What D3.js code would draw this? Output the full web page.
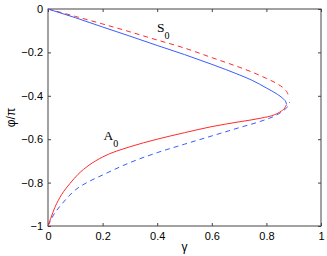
<!DOCTYPE html>
<html>
<head>
<meta charset="utf-8">
<script src="https://cdn.jsdelivr.net/npm/d3@7"></script>
<style>
  body { margin: 0; background: #fff; }
  svg { display: block; }
</style>
</head>
<body>
<svg id="svg1" width="327" height="256"></svg>
<script>
// phase vs gamma, S0 / A0 branches

var xTicks = [0, 0.2, 0.4, 0.6, 0.8, 1];
var yTicks = [0, -0.2, -0.4, -0.6, -0.8, -1];

// S0, solid blue
var s0Solid = [[0,0],[0.1,-0.04],[0.2,-0.083],[0.3,-0.125],[0.4,-0.168],[0.5,-0.21],
  [0.6,-0.255],[0.7,-0.303],[0.75,-0.33],[0.8,-0.364],[0.84,-0.393],[0.86,-0.412],
  [0.871,-0.428],[0.874,-0.44]];
// S0, dashed red
var s0Dash = [[0,0],[0.1,-0.034],[0.2,-0.069],[0.3,-0.105],[0.4,-0.143],[0.5,-0.18],
  [0.6,-0.224],[0.7,-0.268],[0.75,-0.292],[0.8,-0.32],[0.84,-0.345],[0.865,-0.368],
  [0.878,-0.39],[0.882,-0.405]];
// A0, solid red
var a0Solid = [[0,-1],[0.01,-0.965],[0.025,-0.915],[0.05,-0.855],[0.08,-0.805],[0.11,-0.762],
  [0.15,-0.72],[0.2,-0.682],[0.3,-0.635],[0.4,-0.6],[0.5,-0.57],[0.6,-0.542],[0.7,-0.52],
  [0.78,-0.503],[0.83,-0.487],[0.855,-0.47],[0.868,-0.455],[0.873,-0.442]];
// A0, dashed blue
var a0Dash = [[0,-1],[0.02,-0.95],[0.05,-0.9],[0.1,-0.834],[0.15,-0.795],[0.2,-0.765],
  [0.3,-0.708],[0.4,-0.662],[0.5,-0.623],[0.6,-0.585],[0.7,-0.547],[0.78,-0.517],
  [0.83,-0.493],[0.86,-0.47],[0.877,-0.45],[0.885,-0.43]];

var labels = [{name: "S", sub: "0", g: 0.399, p: -0.105},
              {name: "A", sub: "0", g: 0.203, p: -0.604}];

var pLeft = 48, pRight = 321, pTop = 9, pBottom = 226;

var svg = d3.select("#svg1");

var x = d3.scaleLinear().domain([0, 1]).range([pLeft, pRight]);
var y = d3.scaleLinear().domain([-1, 0]).range([pBottom, pTop]);

var fmt = function (d) { return d == 0 ? "0" : d3.format("")(d); };

var axisCol = "#444";

svg.append("g").attr("transform", "translate(0," + pBottom + ")")
  .call(d3.axisBottom(x).tickValues(xTicks).tickFormat(fmt).tickSizeInner(-3).tickSizeOuter(0).tickPadding(6));
svg.append("g").attr("transform", "translate(0," + pTop + ")")
  .call(d3.axisTop(x).tickValues(xTicks).tickFormat("").tickSizeInner(-3).tickSizeOuter(0));
svg.append("g").attr("transform", "translate(" + pLeft + ",0)")
  .call(d3.axisLeft(y).tickValues(yTicks).tickFormat(fmt).tickSizeInner(-3).tickSizeOuter(0).tickPadding(5));
svg.append("g").attr("transform", "translate(" + pRight + ",0)")
  .call(d3.axisRight(y).tickValues(yTicks).tickFormat("").tickSizeInner(-3).tickSizeOuter(0));

svg.selectAll(".domain").remove();
svg.selectAll(".tick line").attr("stroke", axisCol);
svg.selectAll(".tick text")
  .attr("fill", "#000")
  .style("font-family", "'Liberation Sans', Arial, sans-serif")
  .style("font-size", "11px");

svg.append("rect")
  .attr("x", pLeft).attr("y", pTop)
  .attr("width", pRight - pLeft).attr("height", pBottom - pTop)
  .attr("fill", "none").attr("stroke", axisCol).attr("stroke-width", 1);

var line = d3.line()
  .x(function (d) { return x(d[0]); })
  .y(function (d) { return y(d[1]); })
  .curve(d3.curveMonotoneX);

var curves = [
  {data: s0Dash, col: "#ff2a2a", dash: "5,4"},
  {data: a0Dash, col: "#3a5cff", dash: "5,4"},
  {data: s0Solid, col: "#3a5cff", dash: null},
  {data: a0Solid, col: "#ff2a2a", dash: null}
];

svg.selectAll("path.curve").data(curves).enter().append("path")
  .attr("class", "curve")
  .attr("d", function (d) { return line(d.data); })
  .attr("fill", "none")
  .attr("stroke", function (d) { return d.col; })
  .attr("stroke-width", 1)
  .attr("stroke-dasharray", function (d) { return d.dash; });

var lab = svg.selectAll("text.lab").data(labels).enter().append("text")
  .attr("class", "lab")
  .attr("x", function (d) { return x(d.g); })
  .attr("y", function (d) { return y(d.p); })
  .style("font-family", "'Liberation Serif', 'Times New Roman', serif")
  .style("font-size", "13.5px");
lab.append("tspan").text(function (d) { return d.name; });
lab.append("tspan").attr("dy", 7).style("font-size", "10px").text(function (d) { return d.sub; });

svg.append("text")
  .attr("x", (pLeft + pRight) / 2).attr("y", 251)
  .attr("text-anchor", "middle")
  .style("font-family", "'Liberation Sans', Arial, sans-serif")
  .style("font-size", "12px")
  .text("γ");

svg.append("text")
  .attr("transform", "translate(15," + ((pTop + pBottom) / 2) + ") rotate(-90)")
  .attr("text-anchor", "middle")
  .style("font-family", "'Liberation Sans', Arial, sans-serif")
  .style("font-size", "12px")
  .text("φ/π");
</script>
</body>
</html>
